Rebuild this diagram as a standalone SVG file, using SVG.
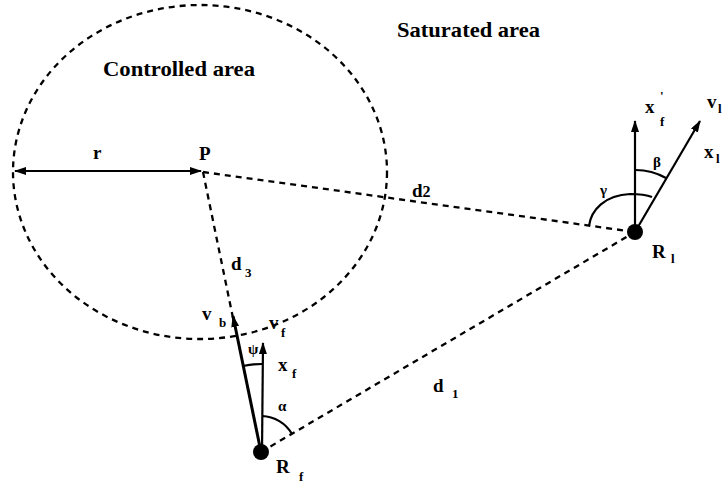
<svg xmlns="http://www.w3.org/2000/svg" width="725" height="483" viewBox="0 0 725 483">
<style>
  .dash { fill: none; stroke: #000; stroke-width: 2.3; stroke-dasharray: 6 5; }
  .solid { fill: none; stroke: #000; stroke-width: 2.2; }
  .thick { fill: none; stroke: #000; stroke-width: 3; }
  .arc { fill: none; stroke: #000; stroke-width: 2.2; }
  .dot { fill: #000; }
  text { font-family: "Liberation Serif", "Times New Roman", serif; font-weight: bold; fill: #000; }
  .area { font-size: 21px; }
  .lbl { font-size: 19px; }
  .sub { font-size: 13px; }
  .greek { font-size: 15px; }
</style>
<defs>
  <marker id="ah" markerWidth="12" markerHeight="8" refX="11" refY="4" orient="auto-start-reverse" markerUnits="userSpaceOnUse">
    <path d="M0,0 L12,4 L0,8 z" fill="#000"/>
  </marker>
</defs>
<rect width="725" height="483" fill="#fff"/>

<g id="controlled-area">
  <ellipse class="dash" cx="200" cy="172" rx="187" ry="167"/>
  <text class="area" x="103" y="76" textLength="152" lengthAdjust="spacingAndGlyphs">Controlled area</text>
</g>
<g id="saturated-area">
  <text class="area" x="397" y="37" textLength="143" lengthAdjust="spacingAndGlyphs">Saturated area</text>
</g>

<g id="connectors">
  <line id="r" class="solid" x1="15" y1="171" x2="201" y2="171" stroke-width="2.6" marker-start="url(#ah)" marker-end="url(#ah)"/>
  <line id="d2" class="dash" x1="203" y1="172" x2="635" y2="232"/>
  <line id="d3" class="dash" x1="203" y1="172" x2="233" y2="318"/>
  <line id="d1" class="dash" x1="261" y1="452" x2="635" y2="232"/>
</g>

<g id="P">
  <text class="lbl" x="199" y="160">P</text>
  <text class="lbl" x="93" y="159">r</text>
</g>

<g id="distance-labels">
  <text class="lbl" x="412" y="197">d<tspan font-size="16px">2</tspan></text>
  <text class="lbl" x="231" y="270">d</text>
  <text class="sub" x="245" y="277">3</text>
  <text class="lbl" x="433" y="392">d</text>
  <text class="sub" x="452" y="398">1</text>
</g>

<g id="Rl">
  <line class="solid" x1="635" y1="232" x2="635" y2="121" marker-end="url(#ah)"/>
  <line class="solid" x1="635" y1="232" x2="700" y2="121" stroke-width="2.6" marker-end="url(#ah)"/>
  <path class="arc" d="M 635 170 A 62 62 0 0 1 666 178"/>
  <path class="arc" d="M 589 226 C 591 210 605 195 630 194 C 640 194 647 195 652 197"/>
  <circle class="dot" cx="635" cy="232" r="8"/>
  <text class="lbl" x="652" y="258">R</text>
  <text class="sub" x="671" y="263">l</text>
  <text class="lbl" x="707" y="108">v</text>
  <text class="sub" x="718" y="113">l</text>
  <text class="lbl" x="704" y="158">x</text>
  <text class="sub" x="716" y="163">l</text>
  <text class="lbl" x="645" y="113">x</text>
  <text class="sub" x="660" y="100">'</text>
  <text class="sub" x="660" y="126">f</text>
  <text class="greek" x="653" y="167">β</text>
  <text class="greek" x="600" y="195">γ</text>
</g>

<g id="Rf">
  <line class="solid" x1="262" y1="452" x2="263" y2="343" marker-end="url(#ah)"/>
  <line class="thick" x1="261" y1="452" x2="233" y2="316" marker-end="url(#ah)"/>
  <path class="arc" d="M 243 366 A 88 88 0 0 1 262 364"/>
  <path class="arc" d="M 262 416 A 36 36 0 0 1 292 434"/>
  <circle class="dot" cx="261" cy="452" r="8"/>
  <text class="lbl" x="276" y="473">R</text>
  <text class="sub" x="299" y="481">f</text>
  <text class="lbl" x="202" y="320">v</text>
  <text class="sub" x="219" y="327">b</text>
  <text class="lbl" x="269" y="329">v</text>
  <text class="sub" x="281" y="337">f</text>
  <text class="lbl" x="278" y="371">x</text>
  <text class="sub" x="292" y="378">f</text>
  <text class="greek" x="248" y="354">ψ</text>
  <text class="greek" x="278" y="411">α</text>
</g>
</svg>
